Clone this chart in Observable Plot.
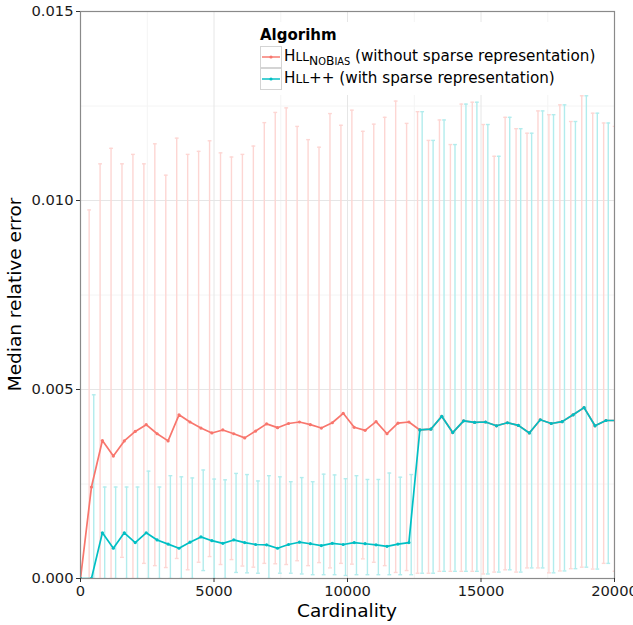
<!DOCTYPE html>
<html><head><meta charset="utf-8">
<script src="https://cdn.jsdelivr.net/npm/d3@7"></script>
<script src="https://cdn.jsdelivr.net/npm/@observablehq/plot@0.6"></script>
<style>body{margin:0;background:#fff;}</style>
</head><body><div id="chart"></div>
<script>
const cardinality = [0,410,820,1230,1640,2050,2460,2870,3280,3690,4100,4510,4920,5330,5740,6150,6560,6970,7380,7790,8200,8610,9020,9430,9840,10250,10660,11070,11480,11890,12300,12710,13120,13530,13940,14350,14760,15170,15580,15990,16400,16810,17220,17630,18040,18450,18860,19270,19680,20090];

const nobiasMedian = [0,0.00242,0.00365,0.00324,0.00364,0.00389,0.00407,0.00383,0.00364,0.00433,
  0.00414,0.00398,0.00385,0.00393,0.00383,0.00372,0.00390,0.00409,0.00399,0.00410,
  0.00414,0.00407,0.00398,0.00412,0.00437,0.00400,0.00392,0.00415,0.00383,0.00411,
  0.00414,0.00393,0.00395,0.00429,0.00386,0.00417,0.00413,0.00414,0.00404,0.00412,
  0.00405,0.00385,0.00420,0.00410,0.00415,0.00433,0.00452,0.00404,0.00418,0.00418];
const nobiasHigh = [0,0.00975,0.01097,0.01138,0.01097,0.01122,0.01097,0.01150,0.01067,0.01165,
  0.01122,0.01130,0.01158,0.01126,0.01115,0.01122,0.01144,0.01206,0.01233,0.01245,
  0.01196,0.01161,0.01141,0.01230,0.01199,0.01239,0.01183,0.01202,0.01220,0.01263,
  0.01204,0.01235,0.01159,0.01213,0.01148,0.01255,0.01260,0.01201,0.01117,0.01220,
  0.01190,0.01178,0.01237,0.01227,0.01253,0.01209,0.01277,0.01231,0.01205,0.01196];
const nobiasLow = [0,0,0,0,0.00056,0,0.00040,0.00034,0.00029,0.00053,
  0.00023,0.00043,0.00058,0.00037,0.00050,0.00033,0.00030,0.00040,0.00039,0.00037,
  0.00047,0.00034,0.00042,0.00028,0.00040,0.00038,0.00052,0.00043,0.00034,0.00016,
  0.00021,0.00014,0.00014,0.00019,0.00019,0.00019,0.00019,0.00012,0.00017,0.00023,
  0.00017,0.00028,0.00028,0.00015,0.00020,0.00026,0.00030,0.00025,0.00040,0.00019];

const hllppMedian = [0,0,0.00121,0.00080,0.00121,0.00095,0.00121,0.00102,0.00091,0.00080,
  0.00096,0.00110,0.00100,0.00093,0.00102,0.00095,0.00090,0.00089,0.00080,0.00090,
  0.00096,0.00092,0.00087,0.00093,0.00090,0.00095,0.00092,0.00089,0.00085,0.00091,
  0.00095,0.00393,0.00395,0.00429,0.00386,0.00417,0.00413,0.00414,0.00404,0.00412,
  0.00405,0.00385,0.00420,0.00410,0.00415,0.00433,0.00452,0.00404,0.00418,0.00418];
const hllppHigh = [0,0.00486,0.00242,0.00242,0.00242,0.00242,0.00284,0.00242,0.00272,0.00269,
  0.00266,0.00287,0.00263,0.00261,0.00278,0.00275,0.00258,0.00272,0.00269,0.00256,
  0.00267,0.00256,0.00276,0.00274,0.00264,0.00272,0.00262,0.00262,0.00279,0.00268,
  0.00275,0.01235,0.01159,0.01213,0.01148,0.01255,0.01260,0.01201,0.01117,0.01220,
  0.01190,0.01178,0.01237,0.01227,0.01253,0.01209,0.01277,0.01231,0.01205,0.01196];
const hllppLow = [0,0,0,0,0,0,0,0,0,0,
  0,0.00021,0,0,0.00016,0.00015,0.00014,0,0.00014,0.00014,
  0.00012,0.00010,0.00010,0.00010,0.00008,0.00010,0.00010,0.00010,0.00010,0.00010,
  0.00010,0.00014,0.00014,0.00019,0.00019,0.00019,0.00019,0.00012,0.00017,0.00023,
  0.00017,0.00028,0.00028,0.00015,0.00020,0.00026,0.00030,0.00025,0.00040,0.00019];

const xTicks = [0,5000,10000,15000,20000];
const xMinor = [2500,7500,12500,17500];
const yTicks = [0,0.005,0.010,0.015];
const yMinor = [0.0025,0.0075,0.0125];

const RED = "#F8766D", TEAL = "#00BFC4";
const RED_BAR = "#FDD6D3", TEAL_BAR = "#B2ECED";

function rows(median, low, high) {
  return cardinality.map((x, i) => ({x, median: median[i], low: low[i], high: high[i]}));
}
const nobias = rows(nobiasMedian, nobiasLow, nobiasHigh);
const hllpp = rows(hllppMedian, hllppLow, hllppHigh);
const barsOf = d => d.filter(r => r.high > 0);

const cap = {draw(ctx, size) { const w = Math.sqrt(size / Math.PI); ctx.moveTo(-w, 0); ctx.lineTo(w, 0); }};

function errorMarks(data, color, dx) {
  const b = barsOf(data);
  return [
    Plot.ruleX(b, {x: "x", y1: "low", y2: "high", stroke: color, strokeWidth: 1.4, dx, clip: true}),
    Plot.dot(b, {x: "x", y: "high", symbol: cap, r: 1.9, stroke: color, fill: "none", strokeWidth: 1.4, dx, clip: true}),
    Plot.dot(b, {x: "x", y: "low", symbol: cap, r: 1.9, stroke: color, fill: "none", strokeWidth: 1.4, dx, clip: true})
  ];
}

const chart = Plot.plot({
  width: 633, height: 625,
  marginLeft: 80, marginRight: 19, marginTop: 11, marginBottom: 47,
  style: {fontFamily: "DejaVu Sans", fontSize: "14.7px", background: "white", color: "#1a1a1a"},
  x: {domain: [0, 20000], label: null},
  y: {domain: [0, 0.015], label: null},
  marks: [
    Plot.ruleX(xMinor, {x: d => d, stroke: "#f4f4f4", strokeWidth: 1}),
    Plot.ruleY(yMinor, {y: d => d, stroke: "#f4f4f4", strokeWidth: 1}),
    Plot.ruleX(xTicks, {x: d => d, stroke: "#e6e6e6", strokeWidth: 1}),
    Plot.ruleY(yTicks, {y: d => d, stroke: "#e6e6e6", strokeWidth: 1}),
    ...errorMarks(nobias, RED_BAR, -2.3),
    ...errorMarks(hllpp, TEAL_BAR, 2.3),
    Plot.line(nobias, {x: "x", y: "median", stroke: RED, strokeWidth: 1.7, clip: true}),
    Plot.dot(nobias, {x: "x", y: "median", fill: RED, r: 1.6, clip: true}),
    Plot.line(hllpp, {x: "x", y: "median", stroke: TEAL, strokeWidth: 1.7, clip: true}),
    Plot.dot(hllpp, {x: "x", y: "median", fill: TEAL, r: 1.6, clip: true}),
    Plot.frame({stroke: "#8a8a8a", strokeWidth: 1.2}),
    Plot.axisX({ticks: xTicks, tickFormat: d => String(d), tickSize: 4, tickPadding: 3, fontSize: 14.7, label: null, stroke: "#333"}),
    Plot.axisY({ticks: yTicks, tickFormat: d3.format(".3f"), tickSize: 4, tickPadding: 3, fontSize: 14.7, label: null, stroke: "#333"})
  ]
});

const svg = d3.select(chart);
svg.attr("font-family", "DejaVu Sans");
// axis titles
svg.append("text").attr("transform", "translate(15,294.5) rotate(-90)")
  .attr("text-anchor", "middle").attr("dy", "0.35em").attr("font-size", 18.5).attr("fill", "#000")
  .text("Median relative error");
svg.append("text").attr("x", 347).attr("y", 611).attr("text-anchor", "middle").attr("dy", "0.35em")
  .attr("font-size", 18.5).attr("fill", "#000").text("Cardinality");

// legend
const lg = svg.append("g").attr("text-anchor", "start");
lg.append("rect").attr("x", 252).attr("y", 22).attr("width", 352).attr("height", 73).attr("fill", "white");
lg.append("text").attr("x", 260).attr("y", 35).attr("dy", "0.35em").attr("font-size", 15).attr("font-weight", "bold").attr("fill", "#000").text("Algorihm");
const keys = [
  {color: RED, y: 46},
  {color: TEAL, y: 68}
];
keys.forEach(k => {
  lg.append("rect").attr("x", 260.5).attr("y", k.y + 0.5).attr("width", 21).attr("height", 21)
    .attr("fill", "white").attr("stroke", "#d4d4d4").attr("stroke-width", 1);
  lg.append("line").attr("x1", 262).attr("x2", 280).attr("y1", k.y + 11).attr("y2", k.y + 11)
    .attr("stroke", k.color).attr("stroke-width", 1.7).attr("opacity", 0.85);
  lg.append("circle").attr("cx", 271).attr("cy", k.y + 11).attr("r", 1.6).attr("fill", k.color);
});
const t1 = lg.append("text").attr("x", 284).attr("y", 61).attr("font-size", 15.2).attr("fill", "#000").attr("text-anchor", "start");
t1.append("tspan").text("H");
t1.append("tspan").attr("font-size", 12.2).text("LL");
t1.append("tspan").attr("dy", 4).attr("font-size", 12.3).text("N");
t1.append("tspan").attr("font-size", 9.8).text("O");
t1.append("tspan").attr("font-size", 12.3).text("B");
t1.append("tspan").attr("font-size", 9.8).text("IAS");
t1.append("tspan").attr("dy", -4).attr("font-size", 15.2).text(" (without sparse representation)");
const t2 = lg.append("text").attr("x", 284).attr("y", 83).attr("font-size", 15.2).attr("fill", "#000").attr("text-anchor", "start");
t2.append("tspan").text("H");
t2.append("tspan").attr("font-size", 12.2).text("LL");
t2.append("tspan").text("++ (with sparse representation)");

document.getElementById("chart").appendChild(chart);
</script>
</body></html>
